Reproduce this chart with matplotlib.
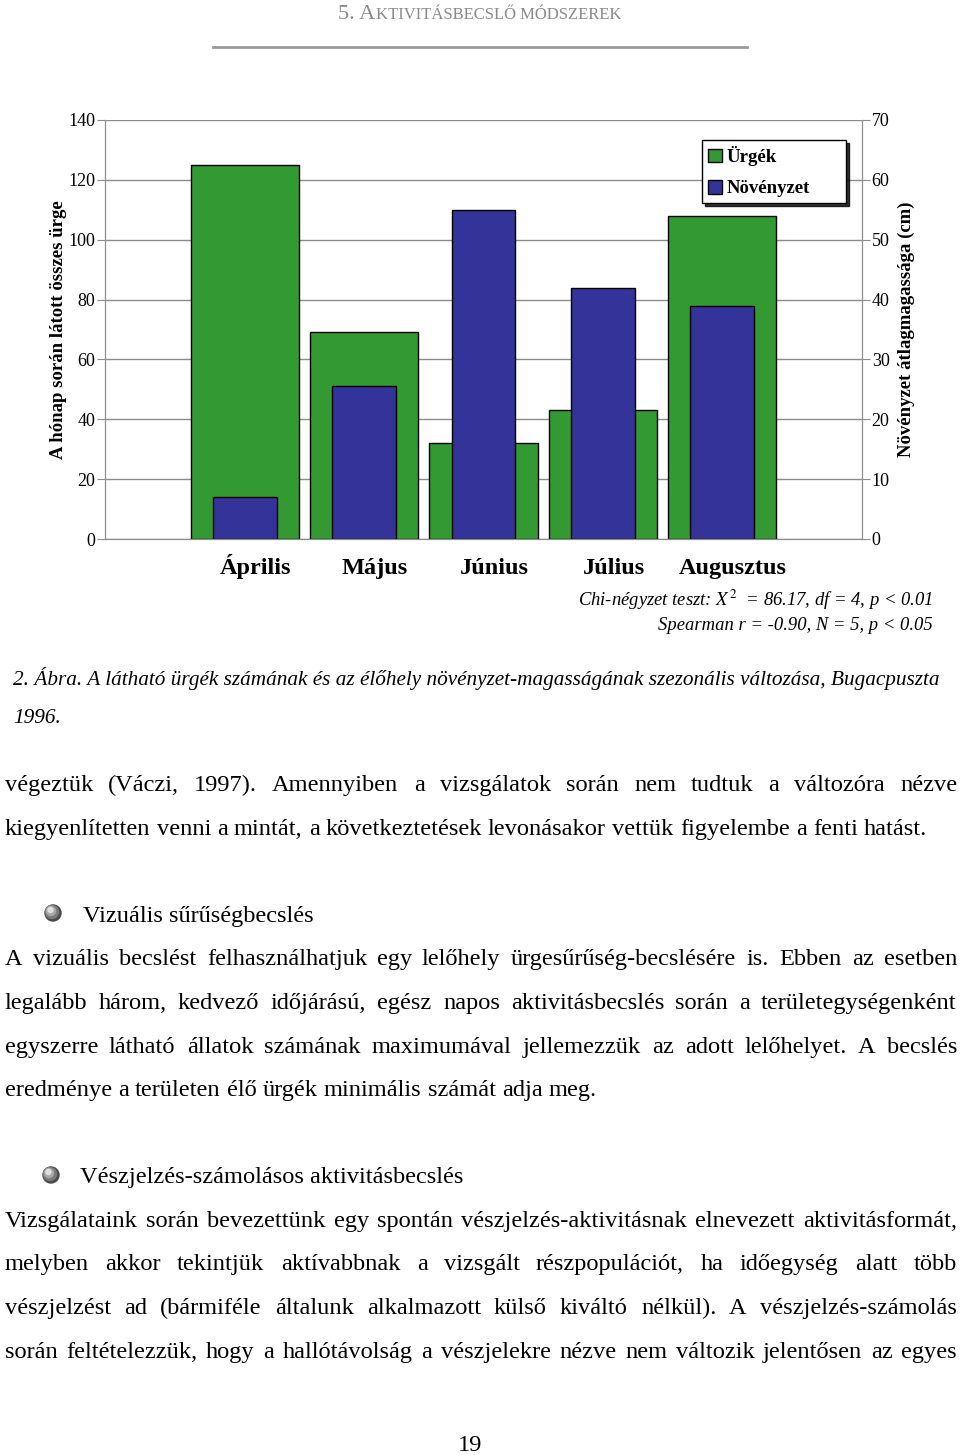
import matplotlib
matplotlib.use('Agg')
import matplotlib.pyplot as plt
from matplotlib.transforms import IdentityTransform
from matplotlib.patches import Patch, Circle
from matplotlib.lines import Line2D

# chart data
months = ['Április', 'Május', 'Június', 'Július', 'Augusztus']
urgek = [125, 69, 32, 43, 108]            # left axis: ürgék száma
novenyzet = [7, 25.5, 55, 42, 39]         # right axis: növényzet (cm)
left_ticks = [0, 20, 40, 60, 80, 100, 120, 140]
right_ticks = [0, 10, 20, 30, 40, 50, 60, 70]

stats_lines = ['Chi-négyzet teszt: $X^2$  = 86.17, df = 4, p < 0.01',
               'Spearman r = -0.90, N = 5, p < 0.05']
caption = ['2. Ábra. A látható ürgék számának és az élőhely növényzet-magasságának '
           'szezonális változása, Bugacpuszta',
           '1996.']
para1 = ['végeztük (Váczi, 1997). Amennyiben a vizsgálatok során nem tudtuk a változóra nézve',
         'kiegyenlítetten venni a mintát, a következtetések levonásakor vettük figyelembe a fenti hatást.']
heading1 = 'Vizuális sűrűségbecslés'
para2 = ['A vizuális becslést felhasználhatjuk egy lelőhely ürgesűrűség-becslésére is. Ebben az esetben',
         'legalább három, kedvező időjárású, egész napos aktivitásbecslés során a területegységenként',
         'egyszerre látható állatok számának maximumával jellemezzük az adott lelőhelyet. A becslés',
         'eredménye a területen élő ürgék minimális számát adja meg.']
heading2 = 'Vészjelzés-számolásos aktivitásbecslés'
para3 = ['Vizsgálataink során bevezettünk egy spontán vészjelzés-aktivitásnak elnevezett aktivitásformát,',
         'melyben akkor tekintjük aktívabbnak a vizsgált részpopulációt, ha időegység alatt több',
         'vészjelzést ad (bármiféle általunk alkalmazott külső kiváltó nélkül). A vészjelzés-számolás',
         'során feltételezzük, hogy a hallótávolság a vészjelekre nézve nem változik jelentősen az egyes']

W, H, DPI = 960, 1456, 100
SERIF = 'Liberation Serif'
BODY = 17.6
GREEN = '#339933'
BLUE = '#333399'
GRID = '#8c8c8c'

plt.rcParams['font.family'] = SERIF
plt.rcParams['mathtext.fontset'] = 'stix'

fig = plt.figure(figsize=(W / DPI, H / DPI), dpi=DPI)
pix = IdentityTransform()
renderer = fig.canvas.get_renderer()


def ftext(x, y, s, **kw):
    # x, y in pixels measured from the top-left corner
    return fig.text(x, H - y, s, transform=pix, **kw)


def place_line(line, y, x0=5, x1=957, justify=True, size=BODY, **kw):
    words = line.split()
    objs = [ftext(0, y, w, fontsize=size, va='baseline', **kw) for w in words]
    widths = [o.get_window_extent(renderer).width for o in objs]
    if justify and len(words) > 1:
        gap = (x1 - x0 - sum(widths)) / (len(words) - 1)
    else:
        gap = size * DPI / 72 * 0.25
    x = x0
    for o, w in zip(objs, widths):
        o.set_position((round(x), H - y))
        x += w + gap


def bullet(x, y):
    # little shaded sphere
    for r, c, dx, dy in [(8, '#4a4a4a', 0, 0), (6.5, '#7a7a7a', -1, 1),
                         (4.5, '#a8a8a8', -2, 2), (2.5, '#e0e0e0', -2.5, 3)]:
        fig.patches.append(Circle((x + dx, H - y + dy), r, transform=pix,
                                  color=c, zorder=5))


# header in small caps, centred
t1 = ftext(0, 19, '5. A', fontsize=16, color='#8a8a8a', va='baseline')
t2 = ftext(0, 19, 'KTIVITÁSBECSLŐ MÓDSZEREK', fontsize=12, color='#8a8a8a', va='baseline')
w1 = t1.get_window_extent(renderer).width
w2 = t2.get_window_extent(renderer).width
hx = 480 - (w1 + w2 + 1) / 2
t1.set_position((hx, H - 19))
t2.set_position((hx + w1 + 1, H - 19))
fig.lines.append(Line2D([213, 747], [H - 47, H - 47], transform=pix, color='#9a9a9a', lw=2))

# chart
ax = fig.add_axes([105 / W, (H - 539) / H, 757 / W, 419 / H])
ax2 = ax.twinx()
x = list(range(len(months)))

ax.bar(x, urgek, width=0.905, color=GREEN, edgecolor='black', linewidth=1, label='Ürgék')
ax2.bar(x, novenyzet, width=0.536, color=BLUE, edgecolor='black', linewidth=1, label='Növényzet')

ax.set_xlim(-1.17, 5.17)
ax.set_ylim(0, 140)
ax2.set_ylim(0, 70)
ax.set_yticks(left_ticks)
ax2.set_yticks(right_ticks)
ax.yaxis.grid(True, color=GRID, lw=1)
ax.set_axisbelow(True)

ax.set_xticks([p + 0.09 for p in x])
ax.set_xticklabels(months, fontsize=17.5, fontweight='bold')
for lbl in ax.get_xticklabels():
    lbl.set_va('baseline')
ax.tick_params(axis='x', length=0, pad=25)
ax.tick_params(axis='y', length=5.5, color=GRID, labelsize=13, pad=1.5)
ax2.tick_params(axis='y', length=5.5, color=GRID, labelsize=13, pad=1.5)

for a in (ax, ax2):
    for side in ('left', 'right', 'bottom'):
        a.spines[side].set_color(GRID)
    a.spines['top'].set_visible(False)

ax.set_ylabel('A hónap során látott összes ürge', fontsize=13.5, fontweight='bold', labelpad=1)
ax2.set_ylabel('Növényzet átlagmagassága (cm)', fontsize=13.5, fontweight='bold',
               rotation=90, labelpad=6)

handles = [Patch(facecolor=GREEN, edgecolor='black'), Patch(facecolor=BLUE, edgecolor='black')]
leg = ax2.legend(handles, ['Ürgék', 'Növényzet'], loc='upper left', mode='expand',
                 bbox_to_anchor=(702 / W, (H - 203) / H, 144 / W, 63 / H),
                 bbox_transform=fig.transFigure,
                 prop={'family': SERIF, 'weight': 'bold', 'size': 13.5},
                 fancybox=False, shadow={'color': 'black', 'alpha': 0.8}, framealpha=1,
                 edgecolor='black', handlelength=0.75, handleheight=0.75, handletextpad=0.25,
                 labelspacing=0.75, borderpad=0.32, borderaxespad=0)
leg.get_frame().set_linewidth(1)

# statistics under the chart
ftext(933, 606, stats_lines[0], fontsize=13.4, style='italic', ha='right', va='baseline')
ftext(933, 630, stats_lines[1], fontsize=13.4, style='italic', ha='right', va='baseline')

# caption
ftext(13, 685, caption[0], fontsize=15.3, style='italic', va='baseline')
ftext(13, 723, caption[1], fontsize=15.3, style='italic', va='baseline')

# body text
for i, line in enumerate(para1):
    place_line(line, [791, 835][i], justify=(i < len(para1) - 1))

bullet(53, 913)
ftext(83, 922, heading1, fontsize=BODY, va='baseline')

for i, line in enumerate(para2):
    place_line(line, [965, 1009, 1053, 1096][i], justify=(i < len(para2) - 1))

bullet(51, 1175)
ftext(80, 1183, heading2, fontsize=BODY, va='baseline')

for i, line in enumerate(para3):
    place_line(line, [1227, 1270, 1314, 1358][i], justify=True)

ftext(470, 1456, '19', fontsize=BODY, ha='center', va='bottom')

fig.savefig('out.png', dpi=DPI)
